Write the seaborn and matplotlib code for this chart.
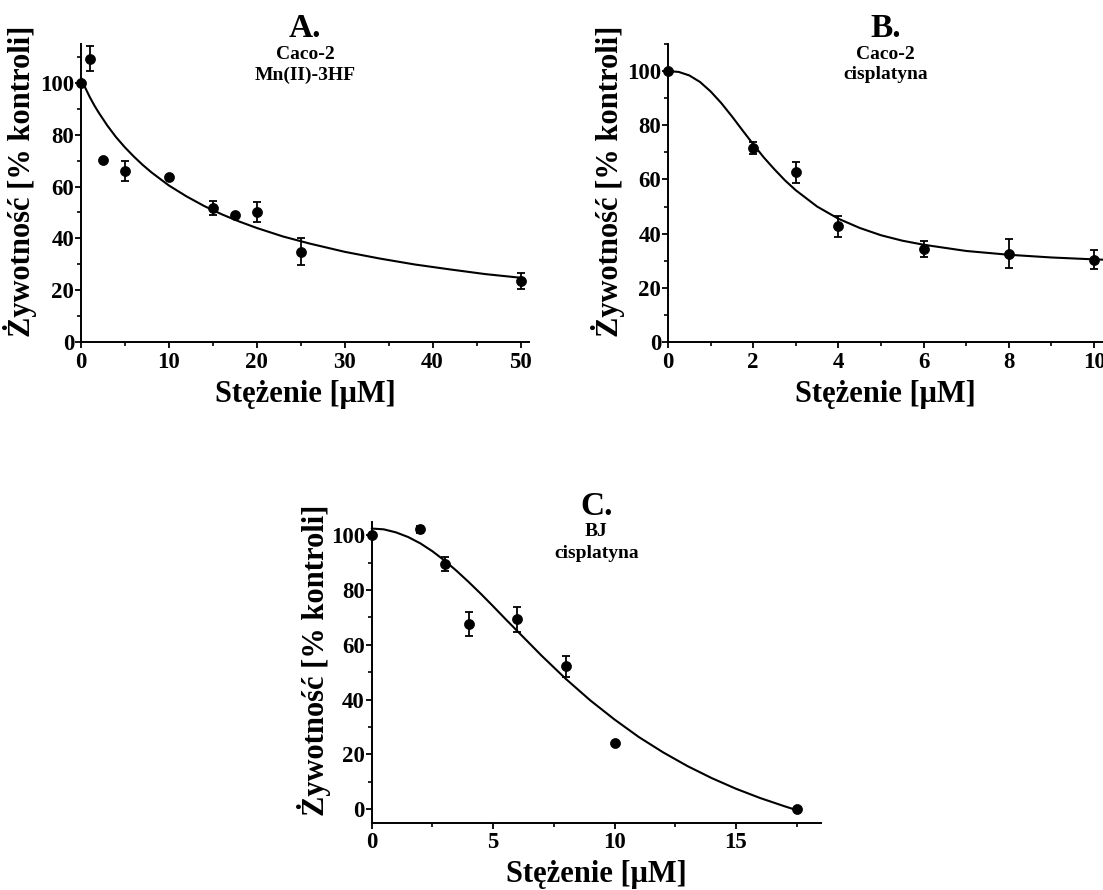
import numpy as np
import pandas as pd
import matplotlib
matplotlib.use("Agg")
import matplotlib.pyplot as plt
import seaborn as sns
from matplotlib.ticker import MultipleLocator

# ---------------- data ----------------
# Panel A: Caco-2, Mn(II)-3HF
a_x = [0, 1, 2.5, 5, 10, 15, 17.5, 20, 25, 50]
a_y = [100, 109.4, 70.1, 66.0, 63.7, 51.9, 48.9, 50.3, 34.9, 23.4]
a_err = [0, 5.0, 0, 4.0, 0, 2.7, 0, 3.9, 5.2, 3.1]
a_fit_x = [0, 0.2, 0.5, 1, 1.5, 2, 3, 4, 5, 6, 7, 8, 10, 12, 14, 16, 18, 20,
           23, 26, 30, 34, 38, 42, 46, 50]
a_fit_y = [102, 100.3, 98.0, 94.5, 91.4, 88.6, 83.5, 79.0, 75.1, 71.6, 68.4,
           65.5, 60.4, 56.2, 52.5, 49.3, 46.5, 44.0, 40.7, 38.0, 34.8, 32.2,
           29.9, 28.0, 26.2, 24.8]

# Panel B: Caco-2, cisplatyna
b_x = [0, 2, 3, 4, 6, 8, 10]
b_y = [100, 71.7, 62.6, 42.7, 34.2, 32.6, 30.4]
b_err = [0, 2.3, 3.8, 3.8, 3.0, 5.4, 3.6]
b_fit_x = [0, 0.25, 0.5, 0.75, 1, 1.25, 1.5, 1.75, 2, 2.25, 2.5, 2.75, 3,
           3.5, 4, 4.5, 5, 5.5, 6, 7, 8, 9, 10, 10.2]
b_fit_y = [100, 99.7, 98.4, 96.0, 92.5, 88.2, 83.3, 78.1, 73.0, 68.1, 63.7,
           59.6, 56.0, 50.0, 45.5, 42.1, 39.4, 37.4, 35.9, 33.6, 32.2, 31.2,
           30.5, 30.4]

# Panel C: BJ, cisplatyna
c_x = [0, 2, 3, 4, 6, 8, 10, 17.5]
c_y = [100, 102.3, 89.6, 67.5, 69.4, 52.1, 24.1, 0]
c_err = [0, 1.3, 2.6, 4.4, 4.6, 4.0, 0, 0]
c_fit_x = [0, 0.5, 1, 1.5, 2, 2.5, 3, 3.5, 4, 4.5, 5, 5.5, 6, 6.5, 7, 8, 9,
           10, 11, 12, 13, 14, 15, 16, 17, 17.5]
c_fit_y = [102.5, 102.2, 101.1, 99.4, 97.1, 94.2, 90.8, 87.0, 82.9, 78.6,
           74.1, 69.5, 65.0, 60.5, 56.0, 47.5, 39.7, 32.7, 26.3, 20.7, 15.7,
           11.3, 7.4, 4.0, 1.0, -0.4]

titles = ["A.", "B.", "C."]
subtitles = [("Caco-2", "Mn(II)-3HF"), ("Caco-2", "cisplatyna"), ("BJ", "cisplatyna")]
xlabel = "Stężenie [μM]"
ylabel = "Żywotność [% kontroli]"

# ---------------- style ----------------
sns.set_theme(style="ticks")
plt.rcParams["font.family"] = ["Liberation Serif", "DejaVu Serif"]
plt.rcParams["font.weight"] = "bold"
plt.rcParams["axes.labelweight"] = "bold"

W, H = 1103, 890
fig = plt.figure(figsize=(W / 100, H / 100), dpi=100)
fig.patch.set_facecolor("white")


def px_axes(left, top, right, bottom):
    return fig.add_axes([left / W, 1 - bottom / H, (right - left) / W, (bottom - top) / H])


panels = [
    dict(rect=(81, 44, 529.3, 342), x=a_x, y=a_y, e=a_err, fx=a_fit_x, fy=a_fit_y,
         xlim=(0, 51), ylim=(0, 115), xmaj=10, xmin=5, ylab_x=-0.098),
    dict(rect=(668, 44, 1103, 342), x=b_x, y=b_y, e=b_err, fx=b_fit_x, fy=b_fit_y,
         xlim=(0, 10.21), ylim=(0, 110), xmaj=2, xmin=1, ylab_x=-0.099),
    dict(rect=(371.7, 521.7, 821, 822.7), x=c_x, y=c_y, e=c_err, fx=c_fit_x, fy=c_fit_y,
         xlim=(0, 18.5), ylim=(-5, 105), xmaj=5, xmin=2.5, ylab_x=-0.09),
]
yticks = [0, 20, 40, 60, 80, 100]

for i, p in enumerate(panels):
    ax = px_axes(*p["rect"])
    ax.set_facecolor("white")
    fit = pd.DataFrame({"x": p["fx"], "y": p["fy"]})
    pts = pd.DataFrame({"x": p["x"], "y": p["y"], "e": p["e"]})
    sns.lineplot(data=fit, x="x", y="y", ax=ax, color="black", lw=1.5,
                 sort=False, estimator=None, clip_on=False)
    err = pts[pts["e"] > 0]
    ax.errorbar(err["x"], err["y"], yerr=err["e"], fmt="none", ecolor="black",
                elinewidth=1.3, capsize=3.2, capthick=1.3, clip_on=False, zorder=3)
    sns.scatterplot(data=pts, x="x", y="y", ax=ax, color="black", s=52,
                    edgecolor="black", linewidth=0.5, zorder=4, clip_on=False)
    ax.set_xlim(*p["xlim"])
    ax.set_ylim(*p["ylim"])
    ax.xaxis.set_major_locator(MultipleLocator(p["xmaj"]))
    ax.xaxis.set_minor_locator(MultipleLocator(p["xmin"]))
    ax.set_yticks(yticks)
    ax.yaxis.set_minor_locator(MultipleLocator(10))
    sns.despine(ax=ax)
    for s in ["left", "bottom"]:
        ax.spines[s].set_linewidth(1.4)
        ax.spines[s].set_color("black")
    ax.tick_params(axis="both", which="major", direction="out", length=4.5, width=1.3,
                   labelsize=16.5, colors="black")
    ax.tick_params(axis="y", which="major", pad=0.5)
    ax.tick_params(axis="x", which="major", pad=2.5)
    ax.tick_params(axis="both", which="minor", direction="out", length=3, width=1.2,
                   colors="black")
    for lab in ax.get_xticklabels() + ax.get_yticklabels():
        lab.set_fontweight("bold")
    ax.set_xlabel(xlabel, fontsize=22, fontweight="bold", labelpad=5, color="black")
    ax.set_ylabel(ylabel, fontsize=22, fontweight="bold", color="black")
    ax.yaxis.set_label_coords(p["ylab_x"], 0.54)
    ax.set_title(titles[i], fontsize=24, fontweight="bold", pad=4, color="black")
    ax.text(0.5, 0.966, subtitles[i][0], transform=ax.transAxes, ha="center",
            va="center", fontsize=14, fontweight="bold", color="black")
    ax.text(0.5, 0.896, subtitles[i][1], transform=ax.transAxes, ha="center",
            va="center", fontsize=14, fontweight="bold", color="black")

fig.savefig("out.png", dpi=100, facecolor="white")
